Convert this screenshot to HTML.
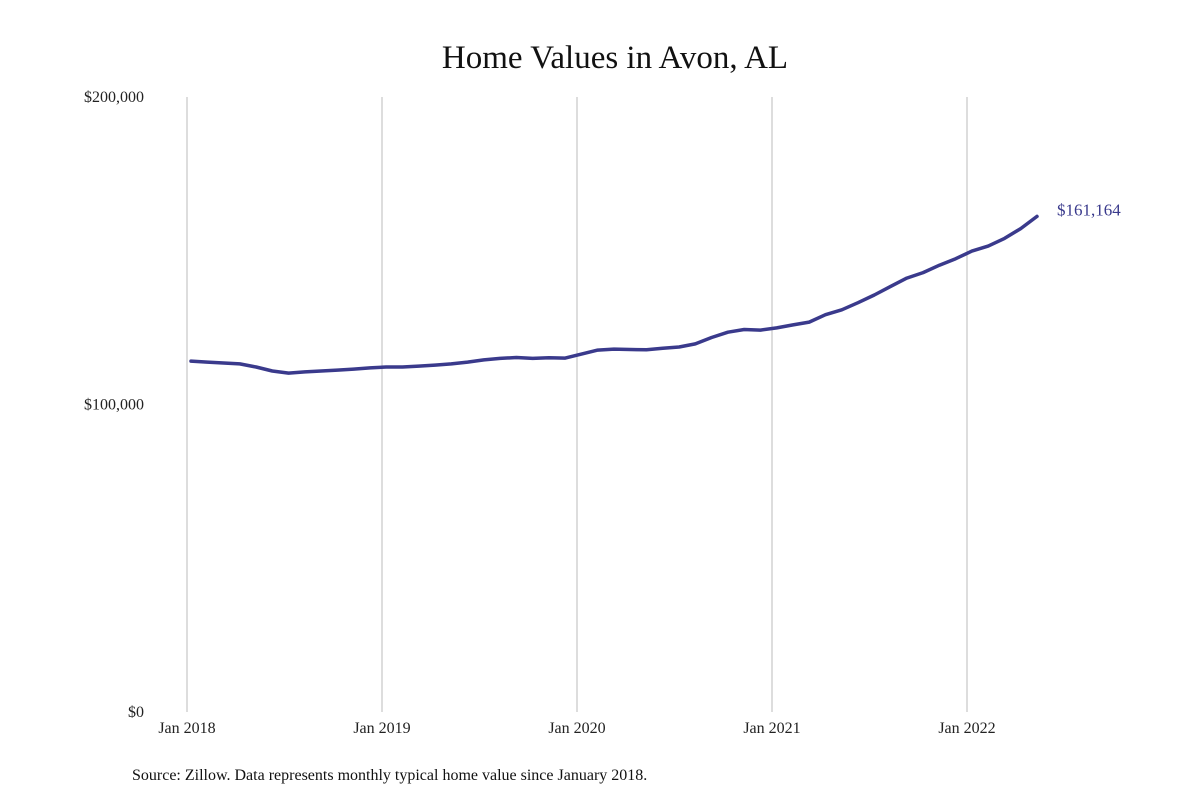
<!DOCTYPE html>
<html><head><meta charset="utf-8"><style>
body{margin:0;background:#fff;}
svg text{font-family:"Liberation Serif",serif;}
</style></head><body>
<svg id="chart" width="1200" height="800" xmlns="http://www.w3.org/2000/svg">
<rect width="1200" height="800" fill="#fff"/>
<text x="615" y="68" text-anchor="middle" font-size="33" fill="#111">Home Values in Avon, AL</text>
<g id="grid"></g><g id="yaxis"></g><g id="xaxis"></g><g id="series"></g>
<text x="132" y="780" font-size="16" fill="#111">Source: Zillow. Data represents monthly typical home value since January 2018.</text>
</svg>
<script>
const values=[114.1,113.8,113.5,113.2,112.2,110.9,110.2,110.6,110.9,111.2,111.5,111.9,112.2,112.2,112.5,112.8,113.2,113.8,114.5,115.0,115.3,115.0,115.2,115.1,116.4,117.7,118.0,117.9,117.8,118.3,118.7,119.7,121.8,123.5,124.4,124.2,124.9,125.9,126.8,129.2,130.8,133.1,135.6,138.4,141.1,142.9,145.3,147.4,149.9,151.5,154.0,157.2,161.164];
const yTicks=[0,100,200];
const yTickLabels=["$0","$100,000","$200,000"];
const xTicks=[0,12,24,36,48];
const xTickLabels=["Jan 2018","Jan 2019","Jan 2020","Jan 2021","Jan 2022"];
const endLabel="$161,164";
const NS="http://www.w3.org/2000/svg";
const gx=i=>187+i*195/12;
const x=i=>191+i*(846/52);
const y=v=>712-v*3.075;
function mk(tag,attrs,parent,txt){const e=document.createElementNS(NS,tag);for(const k in attrs)e.setAttribute(k,attrs[k]);if(txt!==undefined)e.textContent=txt;document.getElementById(parent).appendChild(e);return e;}
xTicks.forEach((t,i)=>{
 const l=mk('line',{x1:gx(t),x2:gx(t),y1:97,y2:712,stroke:'#bbb','stroke-width':1},'grid');
 
 
 const tx=mk('text',{x:gx(t),y:733,'text-anchor':'middle','font-size':16,fill:'#222'},'xaxis',xTickLabels[i]);
 
 
});
yTicks.forEach((t,i)=>{
 const tx=mk('text',{x:144,y:y(t)+5,'text-anchor':'end','font-size':16,fill:'#222'},'yaxis',yTickLabels[i]);
 
 
});
const d=values.map((v,i)=>(i?'L':'M')+x(i).toFixed(1)+','+y(v).toFixed(1)).join(' ');
const p=mk('path',{d:d,fill:'none',stroke:'#3a3a8c','stroke-width':3.5,'stroke-linejoin':'round','stroke-linecap':'round'},'series');


const n=values.length-1;
const el=mk('text',{x:x(n)+20,y:y(values[n])-1,'font-size':17,fill:'#3a3a8c'},'series',endLabel);


</script>
</body></html>
